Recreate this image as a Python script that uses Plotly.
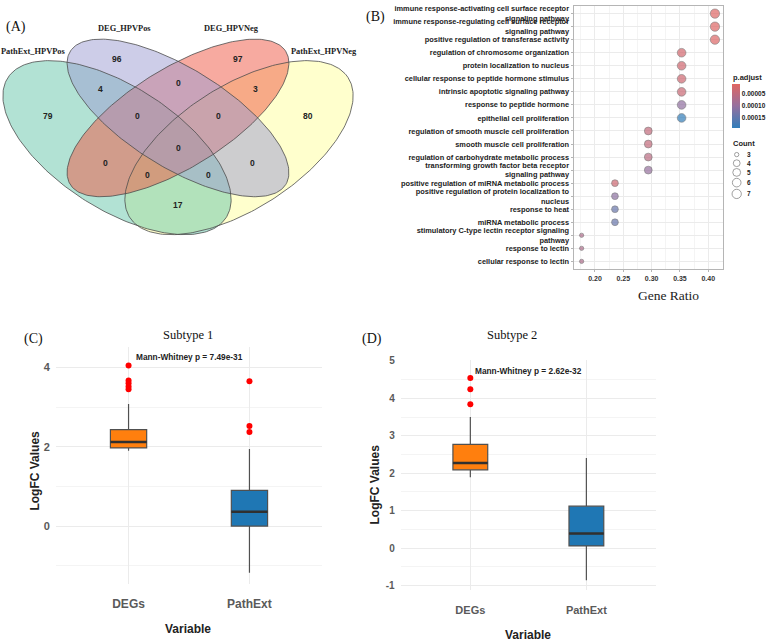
import numpy as np
import plotly.graph_objects as go

W, H = 767, 641
SANS = "Liberation Sans, Arial, sans-serif"
SERIF = "Liberation Serif, Times New Roman, serif"

# ---------------- Panel A : Venn diagram data ----------------
venn_sets = ["PathExt_HPVPos", "DEG_HPVPos", "DEG_HPVNeg", "PathExt_HPVNeg"]
venn_regions = [
    "DEG_HPVPos", "DEG_HPVNeg", "PathExt_HPVPos&DEG_HPVPos", "DEG_HPVPos&DEG_HPVNeg",
    "DEG_HPVNeg&PathExt_HPVNeg", "PathExt_HPVPos", "PathExt_HPVPos&DEG_HPVPos&DEG_HPVNeg",
    "DEG_HPVPos&DEG_HPVNeg&PathExt_HPVNeg", "PathExt_HPVNeg", "all",
    "PathExt_HPVPos&DEG_HPVNeg", "DEG_HPVPos&PathExt_HPVNeg",
    "PathExt_HPVPos&DEG_HPVNeg&PathExt_HPVNeg", "PathExt_HPVPos&DEG_HPVPos&PathExt_HPVNeg",
    "PathExt_HPVPos&PathExt_HPVNeg"]
venn_counts = [96, 97, 4, 0, 3, 79, 0, 0, 80, 0, 0, 0, 0, 0, 17]

# ---------------- Panel B : GO enrichment dot plot data ----------------
go_terms = [
    "immune response-activating cell surface receptor<br>signaling pathway",
    "immune response-regulating cell surface receptor<br>signaling pathway",
    "positive regulation of transferase activity",
    "regulation of chromosome organization",
    "protein localization to nucleus",
    "cellular response to peptide hormone stimulus",
    "intrinsic apoptotic signaling pathway",
    "response to peptide hormone",
    "epithelial cell proliferation",
    "regulation of smooth muscle cell proliferation",
    "smooth muscle cell proliferation",
    "regulation of carbohydrate metabolic process",
    "transforming growth factor beta receptor<br>signaling pathway",
    "positive regulation of miRNA metabolic process",
    "positive regulation of protein localization to<br>nucleus",
    "response to heat",
    "miRNA metabolic process",
    "stimulatory C-type lectin receptor signaling<br>pathway",
    "response to lectin",
    "cellular response to lectin",
]
go_count = [7, 7, 7, 6, 6, 6, 6, 6, 6, 5, 5, 5, 5, 4, 4, 4, 4, 3, 3, 3]
go_padj = [1.0e-5, 1.0e-5, 1.2e-5, 2.5e-5, 2.8e-5, 3.0e-5, 3.5e-5, 1.05e-4, 1.95e-4,
           4.5e-5, 4.5e-5, 5.5e-5, 1.0e-4, 3.0e-5, 1.1e-4, 1.45e-4, 1.45e-4,
           7.0e-5, 7.0e-5, 7.0e-5]
go_set_size = 17
gene_ratio = [c / go_set_size for c in go_count]
x_ticks_b = [0.20, 0.25, 0.30, 0.35, 0.40]
padj_ticks = [0.00005, 0.00010, 0.00015]
count_levels = [3, 4, 5, 6, 7]

# ---------------- Panel C / D : box plot data ----------------
box_categories = ["DEGs", "PathExt"]
c_lowerfence = [1.90, -1.18]
c_q1 = [1.97, 0.00]
c_median = [2.12, 0.36]
c_q3 = [2.43, 0.90]
c_upperfence = [3.08, 1.94]
c_outliers = [[4.05, 3.67, 3.60, 3.52, 3.45], [3.65, 2.52, 2.37]]
c_test = "Mann-Whitney p = 7.49e-31"
c_yticks = [0, 2, 4]

d_lowerfence = [1.89, -0.86]
d_q1 = [2.09, 0.06]
d_median = [2.275, 0.39]
d_q3 = [2.77, 1.12]
d_upperfence = [3.50, 2.41]
d_outliers = [[4.54, 4.24, 3.84], []]
d_test = "Mann-Whitney p = 2.62e-32"
d_yticks = [-1, 0, 1, 2, 3, 4, 5]


# ---------------- helpers ----------------
def px_x(a, b):
    return [a / W, b / W]


def px_y(a, b):
    return [1 - b / H, 1 - a / H]


def ellipse_xy(cx, cy, a, b, ang, n=240):
    t = np.linspace(0, 2 * np.pi, n)
    th = np.deg2rad(ang)
    x = cx + a * np.cos(t) * np.cos(th) - b * np.sin(t) * np.sin(th)
    y = cy + a * np.cos(t) * np.sin(th) + b * np.sin(t) * np.cos(th)
    return x, y


def dot_diam(c):
    t = (c - min(count_levels)) / (max(count_levels) - min(count_levels))
    return 4.3 + 5.0 * np.sqrt(t)


fig = go.Figure()
ann = []

# ---------------- Panel A drawing (canvas axis in pixel units) ----------------
venn_geom = {
    "PathExt_HPVPos": (117, 144, 130, 62, 33),
    "DEG_HPVPos": (178, 114, 127, 50, 32),
    "DEG_HPVNeg": (178, 114, 127, 50, -32),
    "PathExt_HPVNeg": (239, 144, 130, 62, -33),
}
venn_fill = {
    "PathExt_HPVPos": "rgba(101,197,169,0.5)",
    "DEG_HPVPos": "rgba(155,155,209,0.5)",
    "DEG_HPVNeg": "rgba(239,85,65,0.5)",
    "PathExt_HPVNeg": "rgba(255,255,155,0.5)",
}
for s in ["PathExt_HPVNeg", "PathExt_HPVPos", "DEG_HPVNeg", "DEG_HPVPos"]:
    ex, ey = ellipse_xy(*venn_geom[s])
    fig.add_trace(go.Scatter(x=ex, y=ey, mode="lines", fill="toself",
                             fillcolor=venn_fill[s], line=dict(width=0),
                             xaxis="x", yaxis="y", hoverinfo="skip", showlegend=False))
for s in venn_sets:
    ex, ey = ellipse_xy(*venn_geom[s])
    fig.add_trace(go.Scatter(x=ex, y=ey, mode="lines", line=dict(color="#4d4d4d", width=0.8),
                             xaxis="x", yaxis="y", hoverinfo="skip", showlegend=False))

venn_label_xy = [(117, 55), (238, 55), (100, 85), (178, 79), (255, 85), (48, 112),
                 (137, 112), (218, 112), (308, 112), (178, 144), (105, 159), (252, 159),
                 (147, 172), (208, 172), (178, 202)]
for cnt, (lx, ly) in zip(venn_counts, venn_label_xy):
    ann.append(dict(x=lx, y=ly, xref="x", yref="y", text=f"<b>{cnt}</b>", showarrow=False,
                    font=dict(family=SANS, size=8.5, color="#222")))
venn_name_xy = [(33, 47.3), (124.7, 23.3), (231.7, 23.3), (323.8, 47.3)]
for name, (lx, ly) in zip(venn_sets, venn_name_xy):
    ann.append(dict(x=lx, y=ly, xref="x", yref="y", text=f"<b>{name}</b>", showarrow=False,
                    font=dict(family=SERIF, size=8.4, color="#222")))

# ---------------- Panel B drawing ----------------
fig.add_trace(go.Scatter(
    x=gene_ratio, y=go_terms, mode="markers", xaxis="x2", yaxis="y2",
    marker=dict(size=[dot_diam(c) for c in go_count],
                color=[-p for p in go_padj],
                colorscale=[[0, "#327eba"], [0.5, "#95709f"], [1, "#e06663"]],
                cmin=-1.96e-4, cmax=-0.73e-5,
                line=dict(color="#4a4a4a", width=0.6),
                showscale=True,
                colorbar=dict(x=731.7 / W, xanchor="left", xpad=0, ypad=0,
                              y=1 - 102 / H, yanchor="middle", len=44 / H, lenmode="fraction",
                              thickness=8, outlinewidth=0,
                              tickvals=[-p for p in padj_ticks],
                              ticktext=[f"{p:.5f}" for p in padj_ticks],
                              ticks="", tickfont=dict(family=SANS, size=6.5, color="#222", weight="bold"))),
    hoverinfo="skip", showlegend=False))

# Count legend
legend_y = [151, 159.7, 169, 179.3, 190.7]
fig.add_trace(go.Scatter(
    x=[736.7] * len(count_levels), y=legend_y, mode="markers", xaxis="x", yaxis="y",
    marker=dict(size=[dot_diam(c) for c in count_levels], color="rgba(0,0,0,0)",
                line=dict(color="#555", width=0.8)),
    hoverinfo="skip", showlegend=False))
for c, ly in zip(count_levels, legend_y):
    ann.append(dict(x=745, y=ly, xref="x", yref="y", text=f"<b>{c}</b>", showarrow=False,
                    xanchor="left", font=dict(family=SANS, size=6.5, color="#222")))
ann.append(dict(x=731, y=140, xref="x", yref="y", text="<b>Count</b>", showarrow=False,
                xanchor="left", font=dict(family=SANS, size=7.5, color="#222")))
ann.append(dict(x=731, y=73.5, xref="x", yref="y", text="<b>p.adjust</b>", showarrow=False,
                xanchor="left", font=dict(family=SANS, size=7.5, color="#222")))
ann.append(dict(x=668, y=293, xref="x", yref="y", text="Gene Ratio", showarrow=False,
                font=dict(family=SERIF, size=13.5, color="#222")))


# ---------------- Panel C / D drawing ----------------
def add_boxes(xa, ya, lf, q1, med, q3, uf, outs):
    colors = ["#ff7f0e", "#1f77b4"]
    for i in range(len(box_categories)):
        fig.add_trace(go.Box(x=[i], q1=[q1[i]], median=[med[i]], q3=[q3[i]],
                             lowerfence=[lf[i]], upperfence=[uf[i]], width=0.3,
                             whiskerwidth=0, fillcolor=colors[i],
                             line=dict(color="#505050", width=1.2), boxpoints=False,
                             xaxis=xa, yaxis=ya, hoverinfo="skip", showlegend=False))
        fig.add_trace(go.Scatter(x=[i - 0.15, i + 0.15], y=[med[i], med[i]], mode="lines",
                                 line=dict(color="#303030", width=2.6), xaxis=xa, yaxis=ya,
                                 hoverinfo="skip", showlegend=False))
        if outs[i]:
            fig.add_trace(go.Scatter(x=[i] * len(outs[i]), y=outs[i], mode="markers",
                                     marker=dict(color="red", size=6), xaxis=xa, yaxis=ya,
                                     hoverinfo="skip", showlegend=False))


add_boxes("x3", "y3", c_lowerfence, c_q1, c_median, c_q3, c_upperfence, c_outliers)
add_boxes("x4", "y4", d_lowerfence, d_q1, d_median, d_q3, d_upperfence, d_outliers)

ann.append(dict(x=0.5, y=4.25, xref="x3", yref="y3", text=f"<b>{c_test}</b>", showarrow=False,
                font=dict(family=SANS, size=8.3, color="#222")))
ann.append(dict(x=0.5, y=4.74, xref="x4", yref="y4", text=f"<b>{d_test}</b>", showarrow=False,
                font=dict(family=SANS, size=8.3, color="#222")))

for txt, x, y in [("(A)", 16, 22), ("(B)", 375, 12), ("(C)", 33, 337), ("(D)", 372, 337)]:
    ann.append(dict(x=x, y=y, xref="x", yref="y", text=txt, showarrow=False,
                    font=dict(family=SERIF, size=14, color="#111")))
for txt, x, y in [("Subtype 1", 188, 333), ("Subtype 2", 511.7, 333)]:
    ann.append(dict(x=x, y=y, xref="x", yref="y", text=txt, showarrow=False,
                    font=dict(family=SERIF, size=12.5, color="#111")))
for x, y in [(35, 470), (375, 484)]:
    ann.append(dict(x=x, y=y, xref="x", yref="y", text="<b>LogFC Values</b>", showarrow=False,
                    textangle=-90, font=dict(family=SANS, size=12, color="#222")))
for x, y in [(188, 630), (528, 636)]:
    ann.append(dict(x=x, y=y, xref="x", yref="y", text="<b>Variable</b>", showarrow=False,
                    font=dict(family=SANS, size=12, color="#222")))

GRID = "#ebebeb"
MINOR = "#f4f4f4"
fig.update_layout(
    width=W, height=H, margin=dict(l=0, r=0, t=0, b=0),
    paper_bgcolor="white", plot_bgcolor="rgba(0,0,0,0)",
    showlegend=False, annotations=ann,
    xaxis=dict(domain=[0, 1], range=[0, W], visible=False, fixedrange=True),
    yaxis=dict(domain=[0, 1], range=[H, 0], visible=False, fixedrange=True),
    xaxis2=dict(domain=px_x(574, 723), anchor="y2", range=[0.163, 0.426],
                tickvals=x_ticks_b, ticktext=[f"{v:.2f}" for v in x_ticks_b],
                showgrid=True, gridcolor=GRID, gridwidth=1,
                minor=dict(dtick=0.025, tick0=0.175, showgrid=True, gridcolor=MINOR, gridwidth=0.6),
                showline=True, linecolor="#b5b5b5", linewidth=1, mirror=True,
                ticks="outside", ticklen=2, tickcolor="#b5b5b5", zeroline=False,
                tickfont=dict(family=SANS, size=7, color="#333", weight="bold")),
    yaxis2=dict(domain=px_y(0.8, 266.7), anchor="x2", type="category",
                categoryorder="array", categoryarray=go_terms,
                tickmode="array", tickvals=go_terms, ticktext=go_terms,
                range=[len(go_terms) - 0.4, -0.6],
                showgrid=True, gridcolor=GRID, gridwidth=1,
                showline=True, linecolor="#b5b5b5", linewidth=1, mirror=True,
                ticks="outside", ticklen=2.5, tickcolor="#b5b5b5",
                tickfont=dict(family=SANS, size=7.4, color="#222", weight="bold")),
    xaxis3=dict(domain=px_x(56, 322), anchor="y3", range=[-0.6, 1.6],
                tickvals=[0, 1], ticktext=box_categories, showgrid=True, gridcolor=GRID,
                zeroline=False, showline=False, ticks="outside", ticklen=9,
                tickcolor="rgba(0,0,0,0)",
                tickfont=dict(family=SANS, size=12, color="#5a5a5a", weight="bold")),
    yaxis3=dict(domain=px_y(345, 584), anchor="x3", range=[-1.45, 4.52],
                tickvals=c_yticks, ticktext=[str(v) for v in c_yticks],
                showgrid=True, gridcolor=GRID, gridwidth=1,
                minor=dict(dtick=1, tick0=0, showgrid=True, gridcolor=MINOR, gridwidth=0.8),
                zeroline=False, showline=False, ticks="outside", ticklen=3,
                tickcolor="rgba(0,0,0,0)",
                tickfont=dict(family=SANS, size=11, color="#5a5a5a", weight="bold")),
    xaxis4=dict(domain=px_x(400.7, 656), anchor="y4", range=[-0.6, 1.6],
                tickvals=[0, 1], ticktext=box_categories, showgrid=True, gridcolor=GRID,
                zeroline=False, showline=False, ticks="outside", ticklen=9,
                tickcolor="rgba(0,0,0,0)",
                tickfont=dict(family=SANS, size=11, color="#5a5a5a", weight="bold")),
    yaxis4=dict(domain=px_y(358.5, 591), anchor="x4", range=[-1.13, 5.02],
                tickvals=d_yticks, ticktext=[str(v) for v in d_yticks],
                showgrid=True, gridcolor=GRID, gridwidth=1,
                minor=dict(dtick=0.5, tick0=0, showgrid=True, gridcolor=MINOR, gridwidth=0.8),
                zeroline=False, showline=False, ticks="outside", ticklen=3,
                tickcolor="rgba(0,0,0,0)",
                tickfont=dict(family=SANS, size=10, color="#5a5a5a", weight="bold")),
)

fig.write_html("out.html", config={"displayModeBar": False},
               post_script="document.body.style.margin='0px';document.body.style.padding='0px';")
